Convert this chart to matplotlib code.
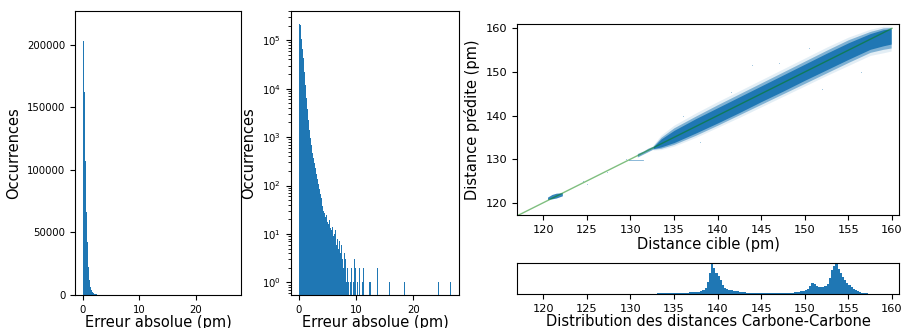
import numpy as np
import matplotlib
matplotlib.use("Agg")
import matplotlib.pyplot as plt

# ---------------- data ----------------
# absolute error histogram (pm)
err_max = 26.6
n_err_bins = 160
err_counts_head = [216000, 203000, 162000, 107000, 66000, 42000, 22000, 12000, 6500, 3800,
                   2300, 1400, 950, 680, 480, 370, 290, 225, 175, 135,
                   105, 85, 66, 55, 44, 38, 30, 27, 22, 25,
                   18, 16, 19, 13, 12, 14, 9, 10, 12, 6,
                   8, 5, 7, 4, 6, 3, 5, 2, 4, 3,
                   1, 2, 1, 0, 1, 2, 0, 1, 3, 2]
err_tail_bins = [61, 63, 66, 67, 74, 75, 82, 95, 110, 146, 159]
err_tail_counts = [1, 2, 1, 2, 1, 1, 2, 1, 1, 1, 1]

# predicted vs target band (pm)
band_x = [132.6, 133.5, 135.0, 137.5, 140.0, 142.5, 145.0, 147.5, 150.0, 152.5, 155.0, 157.5, 159.0, 159.9]
core_hi = [132.8, 134.6, 136.6, 139.3, 141.8, 144.3, 146.8, 149.3, 151.8, 154.3, 156.7, 158.8, 159.7, 159.9]
core_lo = [132.4, 132.8, 133.8, 136.0, 138.3, 140.7, 143.2, 145.6, 148.1, 150.5, 152.9, 155.2, 156.0, 156.4]
mid_hi = [133.0, 135.0, 137.2, 139.9, 142.5, 145.0, 147.5, 150.0, 152.5, 155.0, 157.4, 159.3, 160.1, 160.2]
mid_lo = [132.3, 132.5, 133.4, 135.5, 137.8, 140.2, 142.6, 145.0, 147.4, 149.8, 152.2, 154.5, 155.2, 155.5]
fuzz_hi = [133.2, 135.5, 137.8, 140.6, 143.2, 145.7, 148.2, 150.7, 153.2, 155.7, 158.0, 159.8, 160.5, 160.5]
fuzz_lo = [132.1, 132.2, 133.0, 135.0, 137.3, 139.6, 142.0, 144.4, 146.8, 149.2, 151.5, 153.8, 154.4, 154.8]
blob_x = [120.5, 121.0, 121.5, 122.2]
blob_hi = [121.3, 121.9, 122.2, 122.3]
blob_lo = [120.8, 120.9, 121.1, 121.6]
seg_x = [130.8, 131.5, 132.0, 132.6]
seg_hi = [131.3, 131.9, 132.5, 133.0]
seg_lo = [130.5, 131.2, 131.7, 132.3]
dash_x = [129.8, 131.4]
dash_y = [129.8, 129.8]
outlier_x = [125.0, 124.6, 127.3, 129.5, 136.0, 141.5, 147.0, 152.0, 138.0, 156.5, 144.0, 150.5]
outlier_y = [124.4, 124.9, 127.0, 130.1, 140.0, 145.5, 152.0, 146.0, 134.0, 150.0, 151.5, 155.5]
line_pts = [117.0, 160.0]

# target C-C distance distribution (4 bins per pm, from 133.0)
dist_lo = 133.0
dist_step = 0.25
dist_counts = [30, 32, 33, 34,
               35, 36, 36, 37,
               38, 39, 40, 42,
               44, 46, 48, 52,
               56, 62, 70, 80,
               100, 140, 220, 400,
               700, 1000, 880, 720,
               600, 460, 320, 220,
               170, 140, 120, 105,
               95, 85, 75, 65,
               58, 50, 45, 40,
               36, 33, 30, 30,
               28, 28, 27, 27,
               27, 27, 28, 28,
               30, 31, 32, 34,
               36, 40, 45, 52,
               60, 72, 88, 110,
               140, 180, 260, 370,
               330, 260, 240, 240,
               250, 280, 350, 550,
               800, 950, 1000, 850,
               700, 580, 480, 380,
               300, 230, 170, 120,
               85, 60, 40, 28,
               20, 14, 8, 4]
blip_edges = [120.75, 121.0, 121.25]
blip_counts = [8, 6]

# ---------------- figure ----------------
W, H = 903, 328
fig = plt.figure(figsize=(W / 100, H / 100), dpi=100)


def add_px(l, r, t, b):
    return fig.add_axes([l / W, 1 - b / H, (r - l) / W, (b - t) / H])


blue = "#1f77b4"
lab_fs = 10.5
tick_small = 7.3
tick_big = 8.2

err_counts = np.zeros(n_err_bins)
err_counts[:len(err_counts_head)] = err_counts_head
err_counts[err_tail_bins] = err_tail_counts
err_edges = np.linspace(0, err_max, n_err_bins + 1)
err_centers = 0.5 * (err_edges[:-1] + err_edges[1:])

ax1 = add_px(75, 241, 11, 295)
ax1.hist(err_centers, bins=err_edges, weights=err_counts, color=blue)
ax1.set_ylim(0, 227000)
ax1.set_xlabel("Erreur absolue (pm)", fontsize=lab_fs, labelpad=0)
ax1.set_ylabel("Occurrences", fontsize=lab_fs)
ax1.tick_params(labelsize=tick_small)

ax2 = add_px(291, 459, 11, 295)
ax2.hist(err_centers, bins=err_edges, weights=err_counts, color=blue, log=True)
ax2.set_ylim(0.55, 4.0e5)
ax2.set_xlabel("Erreur absolue (pm)", fontsize=lab_fs, labelpad=0)
ax2.set_ylabel("Occurrences", fontsize=lab_fs)
ax2.tick_params(labelsize=tick_small)

ax3 = add_px(517, 899, 24, 215)
ax3.fill_between(band_x, fuzz_lo, fuzz_hi, color=blue, alpha=0.12, lw=0)
ax3.fill_between(band_x, mid_lo, mid_hi, color=blue, alpha=0.5, lw=0)
ax3.fill_between(band_x, core_lo, core_hi, color=blue, alpha=1.0, lw=0)
ax3.fill_between(blob_x, blob_lo, blob_hi, color=blue, alpha=0.9, lw=0)
ax3.fill_between(seg_x, seg_lo, seg_hi, color=blue, alpha=0.6, lw=0)
ax3.plot(dash_x, dash_y, color=blue, lw=0.6, alpha=0.6)
ax3.scatter(outlier_x, outlier_y, s=0.5, color=blue, alpha=0.3, lw=0)
ax3.plot(line_pts, line_pts, color="green", alpha=0.5, lw=1.0)
ax3.set_xlim(117.0, 160.8)
ax3.set_ylim(117.2, 161.0)
ax3.set_xticks(np.arange(120, 161, 5))
ax3.set_yticks(np.arange(120, 161, 10))
ax3.set_xlabel("Distance cible (pm)", fontsize=lab_fs, labelpad=2)
ax3.set_ylabel("Distance prédite (pm)", fontsize=lab_fs)
ax3.tick_params(labelsize=tick_big)

dist_edges = dist_lo + dist_step * np.arange(len(dist_counts) + 1)
dist_centers = 0.5 * (dist_edges[:-1] + dist_edges[1:])
blip_centers = 0.5 * (np.array(blip_edges[:-1]) + np.array(blip_edges[1:]))
ax4 = add_px(517, 899, 263, 294)
ax4.hist(dist_centers, bins=dist_edges, weights=dist_counts, color=blue)
ax4.hist(blip_centers, bins=blip_edges, weights=blip_counts, color=blue)
ax4.set_xlim(117.0, 160.8)
ax4.set_ylim(0, max(dist_counts) * 1.05)
ax4.set_xticks(np.arange(120, 161, 5))
ax4.set_yticks([])
ax4.set_xlabel("Distribution des distances Carbone-Carbone", fontsize=lab_fs, labelpad=0)
ax4.tick_params(labelsize=tick_big)

fig.savefig("out.png", dpi=100)
